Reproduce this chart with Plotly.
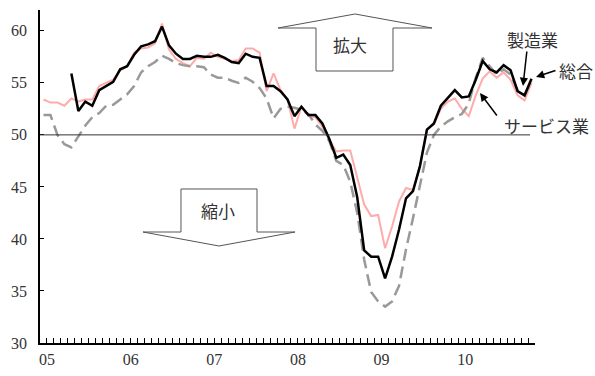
import plotly.graph_objects as go

# Monthly index, Jan 2005 (0) .. Nov 2010 (70)
months = list(range(71))
year_labels = {0: "05", 12: "06", 24: "07", 36: "08", 48: "09", 60: "10"}
month_edges = [m - 0.5 for m in range(72)]
# year label sits on the tick just after January of each year
edge_text = [year_labels.get(int(e - 0.5), "") for e in month_edges]

# 総合
composite = [53.4, 53.1, 53.1, 52.8, 53.5, 53.2, 53.4, 53.4, 54.7, 55.0,
             55.3, 56.2, 56.6, 57.9, 58.3, 58.4, 58.8, 60.7, 58.2, 57.3,
             56.9, 56.6, 57.4, 57.3, 57.9, 57.5, 57.3, 57.1, 57.2, 58.3,
             58.3, 57.9, 54.2, 55.9, 54.3, 53.4, 50.6, 52.7, 51.8, 51.7,
             50.8, 49.5, 48.4, 48.5, 48.5, 45.8, 43.3, 42.2, 42.3, 39.1,
             41.2, 43.6, 44.9, 44.7, 47.0, 50.5, 51.0, 52.5, 53.2, 53.5,
             52.5, 51.8, 53.8, 55.4, 56.1, 55.5, 56.0, 55.3, 53.8, 53.3,
             55.0]

# 製造業 (series starts May 2005)
manufacturing = [None, None, None, None, 55.9, 52.3, 53.2, 52.8, 54.3, 54.7,
                 55.1, 56.3, 56.6, 57.7, 58.5, 58.7, 59.0, 60.4, 58.6, 57.8,
                 57.3, 57.3, 57.6, 57.5, 57.5, 57.7, 57.4, 57.0, 56.9, 57.8,
                 57.5, 57.4, 54.7, 54.7, 54.2, 53.4, 51.8, 52.7, 51.9, 51.9,
                 51.1, 49.6, 47.8, 48.1, 47.1, 44.0, 38.9, 38.3, 38.3, 36.2,
                 38.3, 40.9, 43.9, 44.6, 47.0, 50.5, 51.1, 52.8, 53.5, 54.3,
                 53.6, 53.7, 55.3, 57.1, 56.3, 56.0, 56.7, 56.2, 54.2, 53.8,
                 55.4]

# サービス業
services = [51.9, 51.9, 50.0, 49.1, 48.8, 49.9, 50.9, 51.7, 52.1, 52.8,
            52.9, 53.4, 53.9, 54.7, 56.0, 56.6, 57.0, 57.6, 57.3, 56.9,
            56.7, 56.6, 56.6, 56.5, 55.8, 55.5, 55.5, 55.2, 55.0, 55.5,
            55.1, 54.5, 53.5, 51.6, 52.5, 52.7, 52.6, 52.4, 52.0, 51.0,
            50.4, 49.4, 47.5, 47.1, 45.5, 42.5, 38.0, 34.9, 34.0, 33.5,
            34.0, 35.5, 39.0, 42.0, 45.0, 48.3, 50.0, 50.8, 51.3, 51.7,
            52.0, 53.0, 55.5, 57.4, 56.6, 55.8, 56.3, 55.8, 54.3, 53.8,
            55.2]

W, H = 595, 376
ML, MR, MT, MB = 40, 60, 10, 33
PW, PH = W - ML - MR, H - MT - MB


def px(x, y):
    """pixel position -> paper coordinates"""
    return (x - ML) / PW, (H - MB - y) / PH


fig = go.Figure()
fig.add_trace(go.Scatter(x=months, y=composite, mode="lines", name="総合",
                         line=dict(color="#ffabab", width=2)))
fig.add_trace(go.Scatter(x=months, y=services, mode="lines", name="サービス業",
                         line=dict(color="#999999", width=2.5, dash="12px,6px")))
fig.add_trace(go.Scatter(x=months, y=manufacturing, mode="lines", name="製造業",
                         line=dict(color="#000000", width=2.5)))

shapes = []
# 50 reference line
shapes.append(dict(type="line", xref="paper", yref="y", x0=0, x1=px(530, 0)[0],
                   y0=50, y1=50, line=dict(color="#333333", width=1)))


def block_arrow(pts):
    coords = [px(x, y) for x, y in pts]
    path = "M " + " L ".join(f"{a:.4f},{b:.4f}" for a, b in coords) + " Z"
    return dict(type="path", xref="paper", yref="paper", path=path,
                fillcolor="white", line=dict(color="#555555", width=1))


# 拡大 (up) arrow
shapes.append(block_arrow([(355, 14), (432, 28), (393, 28), (393, 71),
                           (316, 71), (316, 28), (278, 28)]))
# 縮小 (down) arrow
shapes.append(block_arrow([(181, 189), (257, 189), (257, 232), (295, 232),
                           (219, 246), (143, 232), (181, 232)]))

JP = "Noto Sans CJK JP"
NUM = "Liberation Serif"
annotations = []


def label(text, x, y):
    ax_, ay_ = px(x, y)
    annotations.append(dict(text=text, x=ax_, y=ay_, xref="paper", yref="paper",
                            showarrow=False, xanchor="center", yanchor="middle",
                            font=dict(family=JP, size=17, color="#333333")))


def pointer(hx, hy, tx, ty):
    ax_, ay_ = px(hx, hy)
    annotations.append(dict(text="", x=ax_, y=ay_, xref="paper", yref="paper",
                            showarrow=True, ax=tx - hx, ay=ty - hy,
                            arrowhead=2, arrowsize=1.1, arrowwidth=1.5,
                            arrowcolor="#000000"))


label("拡大", 350, 45)
label("縮小", 218, 210)
label("製造業", 532, 39)
label("総合", 576, 70)
label("サービス業", 546, 125)
pointer(523, 86, 527, 50)
pointer(536, 77, 557, 70)
pointer(480, 93, 498, 117)

fig.update_layout(
    width=W, height=H,
    margin=dict(l=ML, r=MR, t=MT, b=MB, pad=0, autoexpand=False),
    paper_bgcolor="white", plot_bgcolor="white",
    showlegend=False,
    shapes=shapes,
    annotations=annotations,
    # month boundary ticks, labelled once per year
    xaxis=dict(range=[-0.5, 70.5], tickmode="array", tickvals=month_edges,
               ticktext=edge_text, ticks="inside", ticklen=5, tickwidth=1,
               tickcolor="#000000", showgrid=False, zeroline=False,
               showline=True, linecolor="#000000", linewidth=1.5,
               automargin=False, ticklabelstandoff=1,
               tickfont=dict(family=NUM, size=16, color="#333333")),
    yaxis=dict(range=[30, 62], tickmode="array", tickvals=[30, 35, 40, 45, 50, 55, 60],
               ticks="inside", ticklen=4, tickcolor="#000000", showgrid=False,
               zeroline=False, showline=True, linecolor="#000000", linewidth=1.5,
               automargin=False, ticklabelstandoff=8,
               tickfont=dict(family=NUM, size=16, color="#333333")),
)

fig.write_html("out.html")
